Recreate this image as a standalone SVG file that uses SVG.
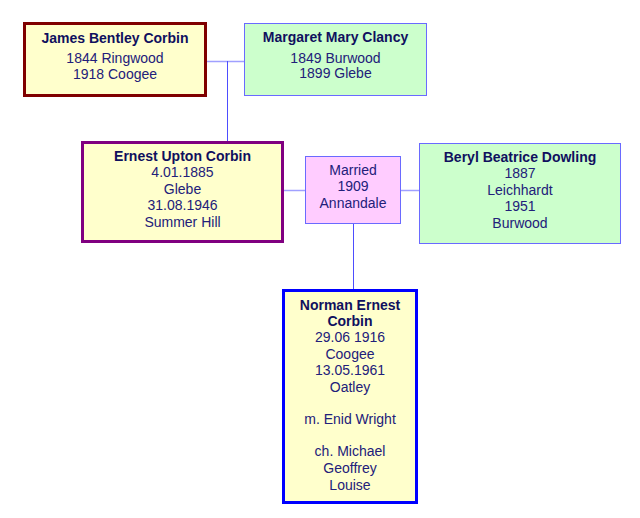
<svg xmlns="http://www.w3.org/2000/svg" width="640" height="518" viewBox="0 0 640 518">
<style>
text{font-family:"Liberation Sans",Arial,sans-serif;font-size:14px;fill:#22207a;text-anchor:middle}
.n{font-weight:bold;fill:#10105e}
.h{stroke:#a0a0ff;stroke-width:1.5;fill:none}
.v{stroke:#4d4dff;stroke-width:1;fill:none}
.y{fill:#ffffcc}
.g{fill:#ccffcc;stroke:#6a6aff;stroke-width:1}
.p{fill:#ffccff;stroke:#6a6aff;stroke-width:1}
</style>
<rect width="640" height="518" fill="#ffffff"/>
<g id="connectors">
<path class="h" d="M207 61.5H244"/>
<path class="v" d="M227.5 61V141"/>
<path class="h" d="M284 190.5H305"/>
<path class="h" d="M400 190.5H419"/>
<path class="v" d="M353.5 223V289"/>
</g>
<g id="james">
<rect class="y" x="24.5" y="23.5" width="181" height="72" stroke="#7f0000" stroke-width="3"/>
<text class="n" x="115" y="43">James Bentley Corbin</text>
<text x="115" y="63">1844 Ringwood</text>
<text x="115" y="79">1918 Coogee</text>
</g>
<g id="margaret">
<rect class="g" x="244.5" y="23.5" width="182" height="72"/>
<text class="n" x="335.5" y="42">Margaret Mary Clancy</text>
<text x="335.5" y="63">1849 Burwood</text>
<text x="335.5" y="78">1899 Glebe</text>
</g>
<g id="ernest">
<rect class="y" x="82.5" y="142.5" width="200" height="99" stroke="#800080" stroke-width="3"/>
<text class="n" x="182.5" y="161">Ernest Upton Corbin</text>
<text x="182.5" y="177">4.01.1885</text>
<text x="182.5" y="194">Glebe</text>
<text x="182.5" y="210">31.08.1946</text>
<text x="182.5" y="227">Summer Hill</text>
</g>
<g id="married">
<rect class="p" x="305.5" y="156.5" width="95" height="67"/>
<text x="353" y="175">Married</text>
<text x="353" y="191">1909</text>
<text x="353" y="208">Annandale</text>
</g>
<g id="beryl">
<rect class="g" x="419.5" y="143.5" width="201" height="100"/>
<text class="n" x="520" y="162">Beryl Beatrice Dowling</text>
<text x="520" y="178">1887</text>
<text x="520" y="195">Leichhardt</text>
<text x="520" y="211">1951</text>
<text x="520" y="228">Burwood</text>
</g>
<g id="norman">
<rect class="y" x="283.5" y="290.5" width="133" height="212" stroke="#0000ff" stroke-width="3"/>
<text class="n" x="350" y="310">Norman Ernest</text>
<text class="n" x="350" y="326">Corbin</text>
<text x="350" y="342">29.06 1916</text>
<text x="350" y="359">Coogee</text>
<text x="350" y="375">13.05.1961</text>
<text x="350" y="392">Oatley</text>
<text x="350" y="424">m. Enid Wright</text>
<text x="350" y="456">ch. Michael</text>
<text x="350" y="473">Geoffrey</text>
<text x="350" y="490">Louise</text>
</g>
</svg>
